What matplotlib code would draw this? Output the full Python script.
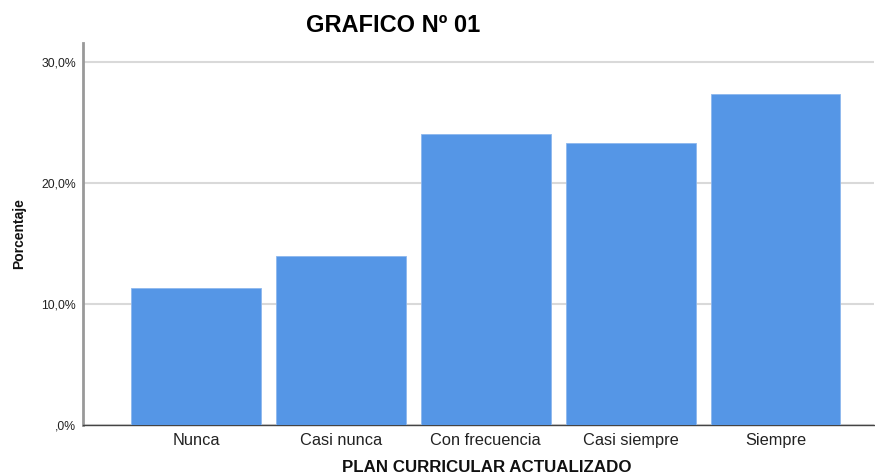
import matplotlib
matplotlib.use("Agg")
import matplotlib.pyplot as plt
from matplotlib.ticker import FuncFormatter

categories = ["Nunca", "Casi nunca", "Con frecuencia", "Casi siempre", "Siempre"]
percentages = [11.33, 14.0, 24.0, 23.33, 27.33]
yticks = [0, 10, 20, 30]
title = "GRAFICO Nº 01"
xlabel = "PLAN CURRICULAR ACTUALIZADO"
ylabel = "Porcentaje"

plt.rcParams['font.family'] = ['Liberation Sans', 'DejaVu Sans']

fig = plt.figure(figsize=(8.75, 4.75), dpi=100)
ax = fig.add_axes([83/875, 50/475, (874-83)/875, (425-42.5)/475])

x = list(range(len(categories)))
ax.bar(x, percentages, width=0.897, color="#5596E6", edgecolor="#8DB8EE", linewidth=0.6, zorder=3)

ax.set_xlim(-0.78, 4.68)
ax.set_ylim(0, 31.6)
ax.set_yticks(yticks)

def fmt(v, p):
    s = ("%.1f%%" % v).replace(".", ",")
    return ",0%" if v == 0 else s

ax.yaxis.set_major_formatter(FuncFormatter(fmt))
ax.set_xticks(x)
ax.set_xticklabels(categories, fontsize=11.8, color="#222222")
ax.tick_params(axis='y', length=0, pad=5, labelsize=8.8, labelcolor="#222222")
ax.tick_params(axis='x', length=0, pad=6)

ax.grid(axis='y', color="#d9d9d9", linewidth=1.5, zorder=0)
ax.set_axisbelow(True)

for s in ["top", "right"]:
    ax.spines[s].set_visible(False)
ax.spines["left"].set_color("#999999")
ax.spines["left"].set_linewidth(2)
ax.spines["bottom"].set_color("#444444")
ax.spines["bottom"].set_linewidth(1)

ax.set_xlabel(xlabel, fontsize=12.2, fontweight="bold", color="#111111")
ax.xaxis.set_label_coords(0.51, -42/382.5, transform=ax.transAxes)
ax.xaxis.label.set_va("center")
ax.set_ylabel(ylabel, fontsize=10, fontweight="bold", labelpad=11, color="#111111")
fig.text(393/875, 1 - 25/475, title, fontsize=17, fontweight="bold", ha="center", va="center")

fig.savefig("out.png", dpi=100, facecolor="white")
